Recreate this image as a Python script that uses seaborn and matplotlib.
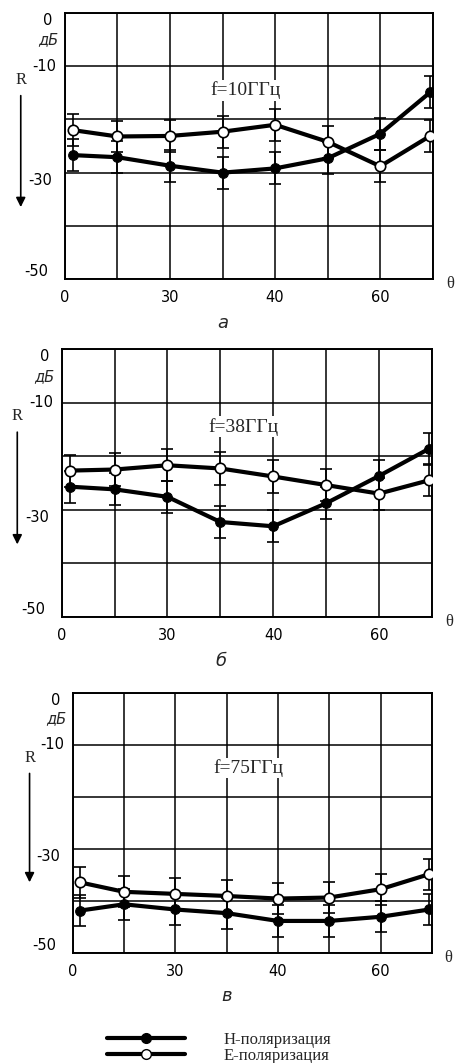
#! /usr/bin/env python3

"""Reflection coefficient R vs incidence angle for three frequencies."""

import matplotlib.pyplot as plt
import matplotlib.transforms as mtransforms
from matplotlib.lines import Line2D
import seaborn as sns

# incidence angle, degrees (axis position)
theta = [1.5, 10, 20, 30, 40, 50, 60, 69.5]

# f = 10 GHz
h_10 = [-26.7, -27.1, -28.7, -30.0, -29.2, -27.3, -22.7, -14.9]
e_10 = [-22.0, -23.2, -23.1, -22.3, -21.0, -24.2, -28.8, -23.1]
h_10_err = [3.0, 3.0, 3.0, 3.0, 3.0, 3.0, 3.0, 3.0]
e_10_err = [3.0, 3.0, 3.0, 3.0, 3.0, 3.0, 3.0, 3.0]

# f = 38 GHz
h_38 = [-25.7, -26.2, -27.6, -32.3, -33.1, -28.8, -23.7, -18.6]
e_38 = [-22.7, -22.5, -21.7, -22.3, -23.8, -25.4, -27.0, -24.5]
h_38_err = [3.0, 3.0, 3.0, 3.0, 3.0, 3.0, 3.0, 3.0]
e_38_err = [3.0, 3.0, 3.0, 3.0, 3.0, 3.0, 3.0, 3.0]

# f = 75 GHz
h_75 = [-41.9, -40.7, -41.7, -42.4, -43.9, -43.9, -43.1, -41.7]
e_75 = [-36.5, -38.3, -38.7, -39.1, -39.6, -39.4, -37.8, -34.9]
h_75_err = [3.0, 3.0, 3.0, 3.0, 3.0, 3.0, 3.0, 3.0]
e_75_err = [3.0, 3.0, 3.0, 3.0, 3.0, 3.0, 3.0, 3.0]

x_ticks = [0, 10, 20, 30, 40, 50, 60, 70]
x_labels = ["0", "", "30", "", "40", "", "60", ""]
y_ticks = [0, -10, -20, -30, -40, -50]
y_labels = ["0", "-10", "", "-30", "", "-50"]

freq_labels = ["f=10ГГц", "f=38ГГц", "f=75ГГц"]
panel_letters = ["а", "б", "в"]
legend_labels = ["Н-поляризация", "Е-поляризация"]

SERIF = ["Liberation Serif", "DejaVu Serif"]


def draw_panel(fig, rect, h, e, h_err, e_err, freq, letter):
    ax = fig.add_axes(rect)

    # error bars first, so the curves sit on top
    ax.errorbar(theta, h, yerr=h_err, fmt="none", ecolor="black",
                elinewidth=1.2, capsize=4, capthick=1.2, zorder=2)
    ax.errorbar(theta, e, yerr=e_err, fmt="none", ecolor="black",
                elinewidth=1.2, capsize=4, capthick=1.2, zorder=2)

    sns.lineplot(x=theta, y=h, ax=ax, color="black", linewidth=3,
                 marker="o", markersize=7, markerfacecolor="black",
                 markeredgecolor="black", zorder=3)
    sns.lineplot(x=theta, y=e, ax=ax, color="black", linewidth=3,
                 marker="o", markersize=7.5, markerfacecolor="white",
                 markeredgecolor="black", markeredgewidth=1.2, zorder=4)

    ax.set_xlim(0, 70)
    ax.set_ylim(-50, 0)
    ax.set_xticks(x_ticks)
    ax.set_xticklabels(x_labels)
    ax.set_yticks(y_ticks)
    ax.set_yticklabels(y_labels)
    ax.set_xlabel("")
    ax.set_ylabel("")
    ax.tick_params(length=0, labelsize=10.5, colors="black")
    ax.tick_params(axis="x", pad=8)
    ax.tick_params(axis="y", pad=6)
    ax.grid(True, color="black", linewidth=1.1)
    ax.set_axisbelow(True)
    for s in ax.spines.values():
        s.set_color("black")
        s.set_linewidth(1.4)

    # hand-placed look of the y labels
    shifts = {"0": (-4, "top"), "-10": (0, "center"),
              "-30": (-4, "top"), "-50": (-8, "bottom")}
    for lab in ax.get_yticklabels():
        txt = lab.get_text()
        if txt in shifts:
            dx, va = shifts[txt]
            lab.set_va(va)
            lab.set_transform(lab.get_transform() + mtransforms.ScaledTranslation(
                dx / 100, 0, fig.dpi_scale_trans))

    ax.text(0.49, 0.71, freq, transform=ax.transAxes, ha="center",
            va="center", fontsize=14, family=SERIF, zorder=5,
            bbox=dict(facecolor="white", edgecolor="none", pad=1))
    ax.text(-0.046, 0.898, "дБ", transform=ax.transAxes, ha="center",
            va="center", fontsize=10.5, style="italic")
    ax.text(-0.12, 0.75, "R", transform=ax.transAxes, ha="center",
            va="center", fontsize=12, family=SERIF)
    ax.annotate("", xy=(-0.12, 0.26), xytext=(-0.12, 0.70),
                xycoords="axes fraction", textcoords="axes fraction",
                arrowprops=dict(arrowstyle="-|>", color="black", lw=1.2,
                                mutation_scale=14))
    ax.text(1.046, -0.02, "θ", transform=ax.transAxes, ha="center",
            va="center", fontsize=12, family=SERIF)
    ax.text(0.43, -0.165, letter, transform=ax.transAxes, ha="center",
            va="center", fontsize=13, style="italic")
    return ax


def main():
    sns.set_theme(style="white")
    plt.rcParams["font.family"] = ["DejaVu Sans"]

    fig = plt.figure(figsize=(4.57, 10.63), dpi=100)

    rects = [
        [0.142, 0.7375, 0.805, 0.2502],
        [0.135, 0.4198, 0.810, 0.2518],
        [0.159, 0.1038, 0.786, 0.2446],
    ]
    series = [
        (h_10, e_10, h_10_err, e_10_err),
        (h_38, e_38, h_38_err, e_38_err),
        (h_75, e_75, h_75_err, e_75_err),
    ]
    for rect, (h, e, he, ee), freq, letter in zip(rects, series, freq_labels,
                                                   panel_letters):
        draw_panel(fig, rect, h, e, he, ee, freq, letter)

    handles = [
        Line2D([], [], color="black", linewidth=3, marker="o", markersize=7,
               markerfacecolor="black", markeredgecolor="black"),
        Line2D([], [], color="black", linewidth=3, marker="o", markersize=7,
               markerfacecolor="white", markeredgecolor="black"),
    ]
    fig.legend(handles, legend_labels, loc="upper left",
               bbox_to_anchor=(0.234, 0.029), frameon=False,
               handlelength=4.7, handletextpad=2.3, labelspacing=0.0,
               borderaxespad=0, borderpad=0,
               prop={"family": SERIF, "size": 12})

    fig.savefig("out.png", dpi=100)
    plt.close(fig)


if __name__ == "__main__":
    main()
